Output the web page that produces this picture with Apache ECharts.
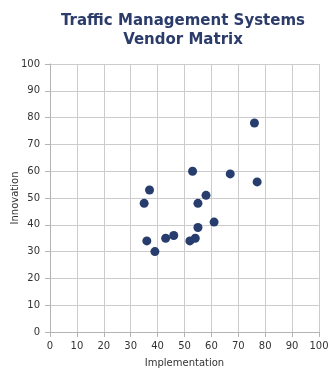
<!DOCTYPE html>
<html><head><meta charset="utf-8">
<script src="https://cdn.jsdelivr.net/npm/echarts@6/dist/echarts.min.js"></script>
<style>html,body{margin:0;padding:0;background:#fff}#c{width:335px;height:377px}</style>
</head><body><div id="c"></div>
<script>
const titleLines = ["Traffic Management Systems", "Vendor Matrix"];
const xName = "Implementation";
const yName = "Innovation";
const implementation = [76, 53, 67, 77, 37, 58, 35, 55, 61, 55, 36, 43, 46, 52, 54, 39];
const innovation     = [78, 60, 59, 56, 53, 51, 48, 48, 41, 39, 34, 35, 36, 34, 35, 30];
const axisMin = 0, axisMax = 100, axisStep = 10;

const pts = implementation.map((x, i) => [x, innovation[i]]);
const chart = echarts.init(document.getElementById('c'), null, {renderer: 'canvas'});
const font = 'DejaVu Sans, Verdana, sans-serif';
const axisCommon = {
  min: axisMin, max: axisMax, interval: axisStep,
  nameLocation: 'middle',
  nameMoveOverlap: false,
  nameTextStyle: {fontFamily: font, fontSize: 10, color: '#333'},
  axisLine: {show: true, lineStyle: {color: '#b4b4b4', width: 1}},
  axisTick: {show: true, length: 5, lineStyle: {color: '#b4b4b4'}},
  axisLabel: {fontFamily: font, fontSize: 10, color: '#333'},
  splitLine: {show: true, lineStyle: {color: '#cccccc', width: 1}}
};
chart.setOption({
  animation: false,
  backgroundColor: '#fff',
  title: {
    text: titleLines.join('\n'), left: 178, top: 7, textAlign: 'center',
    textStyle: {fontFamily: font, fontWeight: 'bold', fontSize: 15, color: '#2b3c6b', lineHeight: 19}
  },
  grid: {left: 50, right: 16, top: 64, bottom: 45, containLabel: false, outerBoundsMode: 'none'},
  xAxis: Object.assign({}, axisCommon, {type: 'value', name: xName, nameGap: 26,
    axisLabel: Object.assign({}, axisCommon.axisLabel, {margin: 9})}),
  yAxis: Object.assign({}, axisCommon, {type: 'value', name: yName, nameGap: 30,
    axisLabel: Object.assign({}, axisCommon.axisLabel, {margin: 10})}),
  series: [{
    type: 'scatter', data: pts, symbolSize: 9,
    itemStyle: {color: '#263d6e', opacity: 1}
  }]
});
</script></body></html>
